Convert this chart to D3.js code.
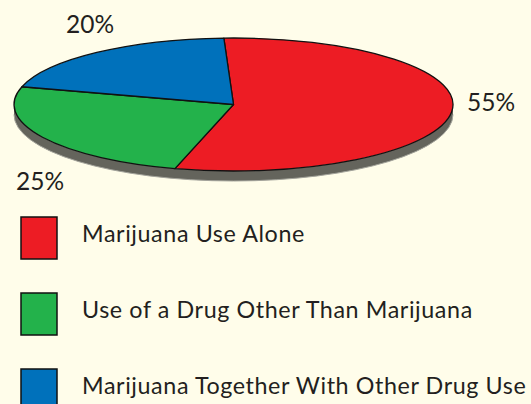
<!DOCTYPE html>
<html>
<head>
<meta charset="utf-8">
<script src="https://cdn.jsdelivr.net/npm/d3@7"></script>
<style>
  html, body { margin: 0; padding: 0; background: #fffdea; }
  svg { display: block; }
  text { font-family: Lato, "Open Sans", sans-serif; fill: #231f20; }
</style>
</head>
<body>
<div id="wrapper"></div>
<script>
const categories = ["Marijuana Use Alone", "Use of a Drug Other Than Marijuana", "Marijuana Together With Other Drug Use"]
const shares = [55, 25, 20]
const shareLabels = ["55%", "25%", "20%"]
const colors = ["#ed1c24", "#23b24b", "#0071bb"]

const width = 531
const height = 404

// ellipse of the pie top
const pieBox = { cx: 233.5, cy: 104.5, rx: 219.5, ry: 66.5, depth: 10 }
// where each % label sits (left x, baseline)
const labelPos = [[467, 111], [16, 190], [66, 33]]

const wrapper = d3.select("#wrapper")
    .append("svg")
    .attr("width", width)
    .attr("height", height)

wrapper.append("rect")
    .attr("width", width)
    .attr("height", height)
    .attr("fill", "#fffdea")

const { cx, cy, rx, ry, depth } = pieBox

// side of the disc
wrapper.append("path")
    .attr("d", `M${cx - rx},${cy} A${rx},${ry} 0 0 0 ${cx + rx},${cy}
        L${cx + rx},${cy + depth} A${rx},${ry} 0 0 1 ${cx - rx},${cy + depth} Z`)
    .attr("fill", "#64645c")
wrapper.append("path")
    .attr("d", `M${cx + rx},${cy + depth} A${rx},${ry} 0 0 1 ${cx - rx},${cy + depth}`)
    .attr("fill", "none")
    .attr("stroke", "#a3a39b")
    .attr("stroke-width", 1)

// top face: a circular pie squashed into the ellipse
const offset = -0.044
const pie = d3.pie()
    .sort(null)
    .startAngle(offset)
    .endAngle(2 * Math.PI + offset)
const arcGen = d3.arc()
    .innerRadius(0)
    .outerRadius(rx)

const face = wrapper.append("g")
    .attr("transform", `translate(${cx},${cy}) scale(1,${ry / rx})`)

face.selectAll("path")
    .data(pie(shares))
    .join("path")
    .attr("d", arcGen)
    .attr("fill", (d, i) => colors[i])
    .attr("stroke", "#111")
    .attr("stroke-width", 1.3)
    .attr("stroke-linejoin", "round")
    .attr("vector-effect", "non-scaling-stroke")

// percent labels
wrapper.selectAll(".pct")
    .data(shareLabels)
    .join("text")
    .attr("class", "pct")
    .attr("x", (d, i) => labelPos[i][0])
    .attr("y", (d, i) => labelPos[i][1])
    .attr("font-size", 24.5)
    .text(d => d)

// legend
const legendY = d3.scalePoint()
    .domain(categories)
    .range([217, 369])

const legend = wrapper.selectAll(".legend")
    .data(categories)
    .join("g")
    .attr("class", "legend")
    .attr("transform", d => `translate(21,${legendY(d)})`)

legend.append("rect")
    .attr("width", 36)
    .attr("height", 42)
    .attr("fill", (d, i) => colors[i])
    .attr("stroke", "#111")
    .attr("stroke-width", 1.5)

legend.append("text")
    .attr("x", 61)
    .attr("y", 25)
    .attr("font-size", 23.3)
    .attr("letter-spacing", 0.6)
    .text(d => d)
</script>
</body>
</html>
